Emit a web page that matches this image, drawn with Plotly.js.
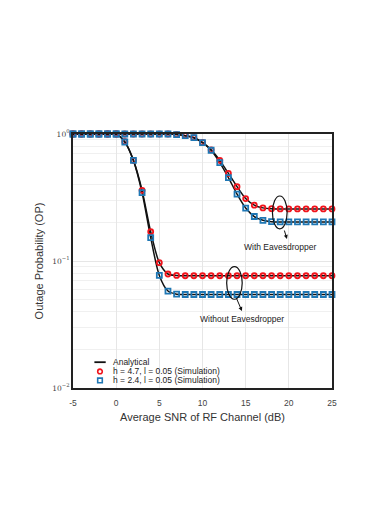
<!DOCTYPE html>
<html>
<head>
<meta charset="utf-8">
<script src="https://cdn.plot.ly/plotly-3.0.1.min.js"></script>
<style>
  html, body { margin: 0; padding: 0; background: #fff; }
  #chart { width: 374px; height: 529px; }
</style>
</head>
<body>
<div id="chart"></div>
<script>
// ============================================================================
// 데이터 (Average SNR vs Outage Probability)
// ============================================================================

const snr = [-5, -4, -3, -2, -1, 0, 1, 2, 3, 4, 5, 6, 7, 8, 9, 10,
             11, 12, 13, 14, 15, 16, 17, 18, 19, 20, 21, 22, 23, 24, 25];

// Without Eavesdropper
const opNoEveH47 = [1, 1, 1, 1, 1, 1, 0.87, 0.62, 0.36, 0.17, 0.097, 0.079, 0.077, 0.0765, 0.0765, 0.0765,
                    0.0765, 0.0765, 0.0765, 0.0765, 0.0765, 0.0765, 0.0765, 0.0765, 0.0765, 0.0765, 0.0765, 0.0765, 0.0765, 0.0765, 0.0765];
const opNoEveH24 = [1, 1, 1, 1, 1, 1, 0.865, 0.62, 0.345, 0.153, 0.077, 0.058, 0.0548, 0.0545, 0.0545, 0.0545,
                    0.0545, 0.0545, 0.0545, 0.0545, 0.0545, 0.0545, 0.0545, 0.0545, 0.0545, 0.0545, 0.0545, 0.0545, 0.0545, 0.0545, 0.0545];

// With Eavesdropper
const opEveH47 = [1, 1, 1, 1, 1, 1, 1, 1, 1, 1, 1, 1, 0.99, 0.97, 0.935, 0.86,
                  0.75, 0.62, 0.49, 0.385, 0.31, 0.275, 0.262, 0.258, 0.257, 0.257, 0.257, 0.257, 0.257, 0.257, 0.257];
const opEveH24 = [1, 1, 1, 1, 1, 1, 1, 1, 1, 1, 1, 1, 0.99, 0.97, 0.935, 0.855,
                  0.745, 0.596, 0.454, 0.336, 0.261, 0.224, 0.209, 0.204, 0.203, 0.203, 0.203, 0.203, 0.203, 0.203, 0.203];

const yTickVals = [0.01, 0.1, 1];
const yTickText = ['10<sup>−2</sup>', '10<sup>−1</sup>', '10<sup>0</sup>'];
const yMinorVals = [0.02, 0.03, 0.04, 0.05, 0.06, 0.07, 0.08, 0.09,
                    0.2, 0.3, 0.4, 0.5, 0.6, 0.7, 0.8, 0.9];
const xTickVals = [-5, 0, 5, 10, 15, 20, 25];
const xTickText = ['-5', '0', '5', '10', '15', '20', '25'];

const legendLabels = ['Analytical', 'h = 4.7, l = 0.05 (Simulation)', 'h = 2.4, l = 0.05 (Simulation)'];

const RED = '#f0141c';
const BLUE = '#1f77b4';

// ============================================================================
// 트레이스 생성
// ============================================================================

function analyticalLine(y) {
    return {
        x: snr, y: y, type: 'scatter', mode: 'lines',
        line: { color: '#111', width: 1.5, shape: 'spline', smoothing: 0.8 },
        cliponaxis: false, showlegend: false, hoverinfo: 'skip'
    };
}

function simMarkers(y, color, symbol) {
    return {
        x: snr, y: y, type: 'scatter', mode: 'markers',
        marker: { symbol: symbol, size: 5, color: color, line: { color: color, width: 1.8 } },
        cliponaxis: false, showlegend: false
    };
}

const traces = [
    analyticalLine(opNoEveH47),
    analyticalLine(opNoEveH24),
    analyticalLine(opEveH47),
    analyticalLine(opEveH24),
    simMarkers(opNoEveH47, RED, 'circle-open'),
    simMarkers(opNoEveH24, BLUE, 'square-open'),
    simMarkers(opEveH47, RED, 'circle-open'),
    simMarkers(opEveH24, BLUE, 'square-open')
];

// ============================================================================
// 범례 (수동) + 주석
// ============================================================================

const shapes = [
    // ellipses around curves
    { type: 'circle', xref: 'x', yref: 'y', x0: 18.1, x1: 19.8, y0: 0.179, y1: 0.325,
      line: { color: '#111', width: 1.2 } },
    { type: 'circle', xref: 'x', yref: 'y', x0: 12.8, x1: 14.6, y0: 0.050, y1: 0.0903,
      line: { color: '#111', width: 1.2 } },
    // legend samples
    { type: 'line', xref: 'paper', yref: 'paper', x0: 0.0826, x1: 0.1263, y0: 0.1016, y1: 0.1016,
      line: { color: '#111', width: 1.8 } },
    { type: 'circle', xref: 'paper', yref: 'paper', xsizemode: 'pixel', ysizemode: 'pixel',
      xanchor: 0.1042, yanchor: 0.0652, x0: -2.3, x1: 2.3, y0: -2.3, y1: 2.3,
      line: { color: RED, width: 1.6 } },
    { type: 'rect', xref: 'paper', yref: 'paper', xsizemode: 'pixel', ysizemode: 'pixel',
      xanchor: 0.1042, yanchor: 0.030, x0: -2.3, x1: 2.3, y0: -2.3, y1: 2.3,
      line: { color: BLUE, width: 1.6 } }
];

const legendFont = { family: 'Liberation Sans, Arial, sans-serif', size: 8.5, color: '#222' };

const annotations = [
    { xref: 'paper', yref: 'paper', x: 0.1456, y: 0.1016, text: legendLabels[0], showarrow: false,
      xanchor: 'left', yanchor: 'middle', font: legendFont },
    { xref: 'paper', yref: 'paper', x: 0.1456, y: 0.0652, text: legendLabels[1], showarrow: false,
      xanchor: 'left', yanchor: 'middle', font: legendFont },
    { xref: 'paper', yref: 'paper', x: 0.1456, y: 0.030, text: legendLabels[2], showarrow: false,
      xanchor: 'left', yanchor: 'middle', font: legendFont },
    // labels (log axis -> y in log10)
    { x: 18.92, y: -0.892, text: 'With Eavesdropper', showarrow: false, font: legendFont },
    { x: 14.57, y: -1.453, text: 'Without Eavesdropper', showarrow: false, font: legendFont },
    // arrows
    { x: 19.78, y: -0.827, ax: -3, ay: -10, text: '', showarrow: true,
      arrowhead: 2, arrowsize: 0.8, arrowwidth: 1, arrowcolor: '#111' },
    { x: 14.57, y: -1.394, ax: -6, ay: -14, text: '', showarrow: true,
      arrowhead: 2, arrowsize: 0.8, arrowwidth: 1, arrowcolor: '#111' }
];

// ============================================================================
// 레이아웃
// ============================================================================

const layout = {
    width: 374, height: 529,
    margin: { l: 73, r: 42, t: 134, b: 141 },
    paper_bgcolor: '#fff', plot_bgcolor: '#fff',
    showlegend: false,
    font: { family: 'Liberation Sans, Arial, sans-serif', color: '#333' },
    xaxis: {
        range: [-5, 25], tickvals: xTickVals, ticktext: xTickText, ticks: '',
        ticklabelstandoff: 6,
        showgrid: true, gridcolor: '#e6e6e6', gridwidth: 1,
        zeroline: false, showline: true, linecolor: '#222', linewidth: 2, mirror: true,
        tickfont: { size: 8.5, color: '#444' },
        title: { text: 'Average SNR of RF Channel (dB)', font: { size: 11, color: '#333' }, standoff: 6 }
    },
    yaxis: {
        type: 'log', range: [-2, 0], tickvals: yTickVals, ticktext: yTickText, ticks: '',
        showgrid: true, gridcolor: '#e6e6e6', gridwidth: 1,
        minor: { tickvals: yMinorVals, showgrid: true, gridcolor: '#f0f0f0', gridwidth: 1, ticks: '' },
        zeroline: false, showline: true, linecolor: '#222', linewidth: 2, mirror: true,
        tickfont: { family: 'DejaVu Serif, serif', size: 7.5, color: '#444' },
        title: { text: 'Outage Probability (OP)', font: { size: 11, color: '#333' }, standoff: 6 }
    },
    shapes: shapes,
    annotations: annotations
};

Plotly.newPlot('chart', traces, layout, { staticPlot: true, displayModeBar: false });
</script>
</body>
</html>
